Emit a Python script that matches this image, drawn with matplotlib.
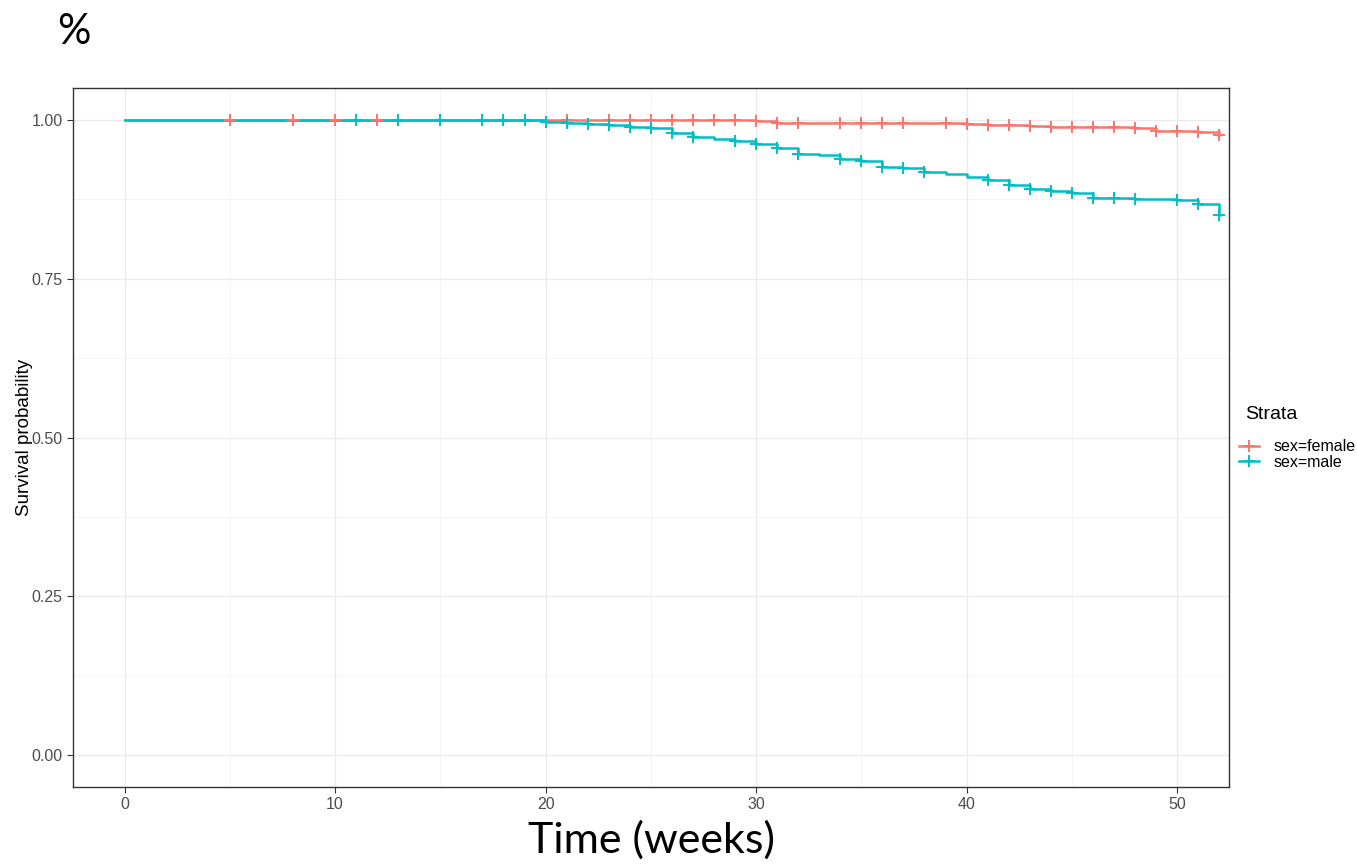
import numpy as np
import matplotlib
matplotlib.use('Agg')
import matplotlib.pyplot as plt
from matplotlib.lines import Line2D

#dane
groups = ['sex=female', 'sex=male']
colors = ['#F8766D', '#00BFC4']

female_t = [0, 30, 31, 40, 41, 43, 44, 48, 49, 51, 52]
female_s = [1.0, 0.998, 0.995, 0.993, 0.9915, 0.9895, 0.9885, 0.987, 0.983, 0.9805, 0.9765]
female_cens = [5, 8, 10, 12, 21, 23, 24, 25, 26, 27, 28, 29, 30, 31, 32, 34, 35, 36, 37,
               39, 40, 41, 42, 43, 44, 45, 46, 47, 48, 49, 50, 51, 52]

male_t = [0, 20, 21, 22, 23, 24, 25, 26, 27, 28, 29, 30, 31, 32, 33, 34, 35, 36, 37, 38,
          39, 40, 41, 42, 43, 44, 45, 46, 47, 48, 49, 50, 51, 52]
male_s = [1.0, 0.9969, 0.9948, 0.9927, 0.9916, 0.988, 0.9864, 0.979, 0.9727, 0.969, 0.966,
          0.9623, 0.9555, 0.9465, 0.945, 0.938, 0.9355, 0.9258, 0.9237, 0.918, 0.914, 0.9106,
          0.9054, 0.897, 0.8918, 0.888, 0.8855, 0.8776, 0.877, 0.876, 0.875, 0.8734, 0.867, 0.85]
male_cens = [11, 13, 15, 17, 18, 19, 20, 21, 22, 23, 24, 25, 26, 27, 29, 30, 31, 32, 34, 35,
             36, 37, 38, 41, 42, 43, 44, 45, 46, 47, 48, 50, 51, 52]

x_ticks = [0, 10, 20, 30, 40, 50]
y_ticks = [0.0, 0.25, 0.5, 0.75, 1.0]

#wykres
fig = plt.figure(figsize=(13.57, 8.66), dpi=100)
ax = fig.add_axes([0.0538, 0.0912, 0.8519, 0.8072])

curves = [(female_t, female_s, female_cens), (male_t, male_s, male_cens)]
for (t, s, cens), c in zip(curves, colors):
    t = np.array(t)
    s = np.array(s)
    ax.step(t, s, where='post', color=c, lw=1.8, zorder=3)
    idx = np.searchsorted(t, cens, side='right') - 1
    ax.plot(cens, s[idx], ls='none', marker='+', ms=8, mew=1.4, color=c, zorder=4)

ax.set_xlim(-2.45, 52.47)
ax.set_ylim(-0.05, 1.05)
ax.set_xticks(x_ticks)
ax.set_yticks(y_ticks)
ax.set_xticks([5, 15, 25, 35, 45], minor=True)
ax.set_yticks([0.125, 0.375, 0.625, 0.875], minor=True)
ax.set_yticklabels([f'{v:.2f}' for v in y_ticks])
ax.grid(which='major', color='#EBEBEB', lw=1.0)
ax.grid(which='minor', color='#F2F2F2', lw=0.6)
ax.set_axisbelow(True)
ax.tick_params(which='major', length=4, width=0.8, color='#333333', labelcolor='#4D4D4D',
               labelsize=11.5)
ax.tick_params(which='minor', length=0)
for lab in ax.get_xticklabels() + ax.get_yticklabels():
    lab.set_family('Liberation Sans')
for sp in ax.spines.values():
    sp.set_color('#333333')
    sp.set_linewidth(1.0)

ax.set_ylabel('Survival probability', fontsize=13.5, family='Liberation Sans', labelpad=-1)
ax.set_xlabel('Time (weeks)', fontsize=31, family='Lato', labelpad=6)
fig.text(0.042, 0.985, '%', fontsize=30, family='Lato', va='top')

# legenda
fig.text(0.9175, 1 - 415 / 866, 'Strata', fontsize=14, family='Liberation Sans', va='center')
handles = [Line2D([], [], color=c, lw=1.8, marker='+', ms=8, mew=1.4) for c in colors]
fig.legend(handles, groups, loc='center left', bbox_to_anchor=(0.908, 0.475),
           frameon=False, handlelength=1.3, handletextpad=0.9, labelspacing=0.05,
           borderaxespad=0, prop={'family': 'Liberation Sans', 'size': 11.5})

fig.savefig('out.png', dpi=100)
